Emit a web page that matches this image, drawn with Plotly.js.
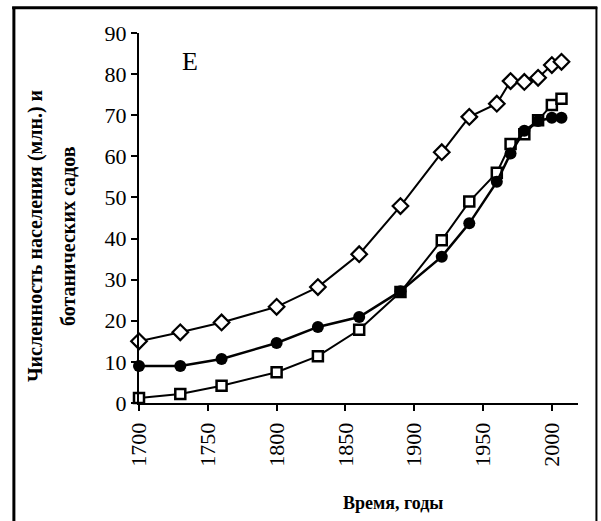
<!DOCTYPE html>
<html>
<head>
<meta charset="utf-8">
<script src="https://cdn.plot.ly/plotly-3.0.1.min.js"></script>
<style>
  html, body { margin: 0; padding: 0; background: #fff; }
  #chart { width: 601px; height: 521px; }
</style>
</head>
<body>
<div id="chart"></div>
<script>
// Years of observation
const yearsDiamond = [1700, 1730, 1760, 1800, 1830, 1860, 1890, 1920, 1940, 1960, 1970, 1980, 1990, 2000, 2007];
const valuesDiamond = [15.0, 17.2, 19.6, 23.4, 28.2, 36.2, 47.9, 61.0, 69.6, 72.8, 78.3, 78.1, 79.1, 82.2, 83.0];

const yearsCircle = [1700, 1730, 1760, 1800, 1830, 1860, 1890, 1920, 1940, 1960, 1970, 1980, 1990, 2000, 2007];
const valuesCircle = [9.0, 9.0, 10.7, 14.6, 18.5, 20.9, 27.2, 35.6, 43.7, 53.8, 60.7, 66.2, 68.6, 69.4, 69.4];

const yearsSquare = [1700, 1730, 1760, 1800, 1830, 1860, 1890, 1920, 1940, 1960, 1970, 1980, 1990, 2000, 2007];
const valuesSquare = [1.2, 2.2, 4.2, 7.5, 11.4, 17.8, 27.0, 39.6, 49.0, 56.0, 63.0, 65.4, 68.8, 72.5, 74.0];

const xTicks = [1700, 1750, 1800, 1850, 1900, 1950, 2000];
const yTicks = [0, 10, 20, 30, 40, 50, 60, 70, 80, 90];

const yTitleLine1 = 'Численность населения (млн.) и';
const yTitleLine2 = 'ботанических садов';
const xTitle = 'Время, годы';
const panelLabel = 'E';

const serif = 'Liberation Serif, Times New Roman, serif';

const traces = [
  {
    x: yearsDiamond, y: valuesDiamond, type: 'scatter', mode: 'lines+markers',
    line: {color: '#000', width: 2},
    marker: {symbol: 'diamond', size: 12, color: '#fff', line: {color: '#000', width: 2.2}},
    cliponaxis: false, showlegend: false
  },
  {
    x: yearsSquare, y: valuesSquare, type: 'scatter', mode: 'lines+markers',
    line: {color: '#000', width: 2},
    marker: {symbol: 'square', size: 10, color: '#fff', line: {color: '#000', width: 2.5}},
    cliponaxis: false, showlegend: false
  },
  {
    x: yearsCircle, y: valuesCircle, type: 'scatter', mode: 'lines+markers',
    line: {color: '#000', width: 2.5},
    marker: {symbol: 'circle', size: 12, color: '#000'},
    cliponaxis: false, showlegend: false
  }
];

const layout = {
  width: 601, height: 521,
  margin: {l: 139, r: 23, t: 33, b: 118},
  paper_bgcolor: '#fff', plot_bgcolor: '#fff',
  font: {family: serif, color: '#000', size: 20},
  xaxis: {
    range: [1700, 2019], tickvals: xTicks, ticktext: xTicks.map(String),
    tickangle: -90, ticks: 'outside', ticklen: 6, tickwidth: 2, tickcolor: '#000',
    showline: true, linecolor: '#000', linewidth: 2, showgrid: false, zeroline: false,
    ticklabelstandoff: 3,
    tickfont: {family: serif, size: 22, color: '#000'}
  },
  yaxis: {
    range: [0, 90], tickvals: yTicks, ticktext: yTicks.map(String),
    ticks: 'outside', ticklen: 6, tickwidth: 2, tickcolor: '#000',
    showline: true, linecolor: '#000', linewidth: 2, showgrid: false, zeroline: false,
    tickfont: {family: serif, size: 22, color: '#000'}
  },
  annotations: [
    {text: '<b>' + yTitleLine1 + '</b>', xref: 'paper', yref: 'paper', x: -0.237, y: 0.451,
     xanchor: 'center', yanchor: 'middle', textangle: -90, showarrow: false,
     font: {family: serif, size: 20, color: '#000'}},
    {text: '<b>' + yTitleLine2 + '</b>', xref: 'paper', yref: 'paper', x: -0.162, y: 0.451,
     xanchor: 'center', yanchor: 'middle', textangle: -90, showarrow: false,
     font: {family: serif, size: 20, color: '#000'}},
    {text: '<b>' + xTitle + '</b>', xref: 'paper', yref: 'paper', x: 0.579, y: -0.27,
     xanchor: 'center', yanchor: 'middle', showarrow: false,
     font: {family: serif, size: 18, color: '#000'}},
    {text: panelLabel, xref: 'paper', yref: 'paper', x: 0.116, y: 0.922,
     xanchor: 'center', yanchor: 'middle', showarrow: false,
     font: {family: serif, size: 26, color: '#000'}}
  ],
  shapes: [
    {type: 'line', xref: 'paper', yref: 'paper', x0: -0.285, x1: -0.285, y0: 1.070, y1: -0.35, line: {color: '#000', width: 3}},
    {type: 'line', xref: 'paper', yref: 'paper', x0: -0.289, x1: 1.044, y0: 1.068, y1: 1.068, line: {color: '#000', width: 3}},
    {type: 'line', xref: 'paper', yref: 'paper', x0: 1.042, x1: 1.042, y0: 1.070, y1: -0.35, line: {color: '#000', width: 2}}
  ]
};

Plotly.newPlot('chart', traces, layout, {displayModeBar: false, staticPlot: true});
</script>
</body>
</html>
